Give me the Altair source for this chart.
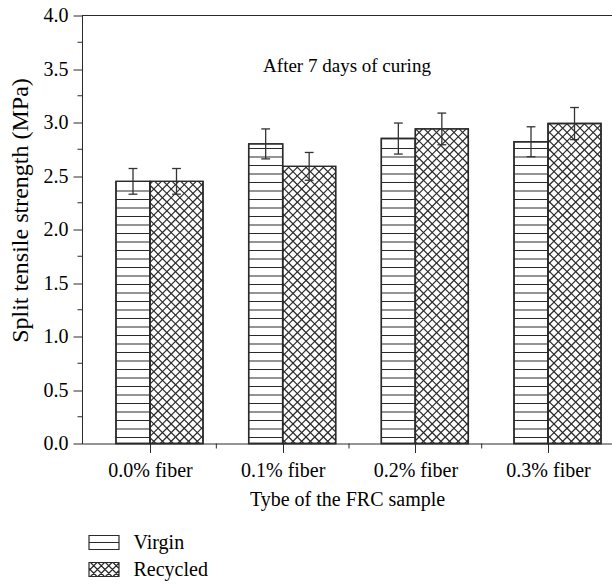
import json
import altair as alt
import numpy as np
import pandas as pd

# ---------------- data ----------------
categories = ["0.0% fiber", "0.1% fiber", "0.2% fiber", "0.3% fiber"]
series = ["Virgin", "Recycled"]
virgin = [2.45, 2.80, 2.85, 2.82]
recycled = [2.45, 2.59, 2.94, 2.99]
virgin_err = [0.12, 0.14, 0.145, 0.14]
recycled_err = [0.12, 0.13, 0.148, 0.15]
y_ticks = [0.0, 0.5, 1.0, 1.5, 2.0, 2.5, 3.0, 3.5, 4.0]
y_minor_ticks = [0.25, 0.75, 1.25, 1.75, 2.25, 2.75, 3.25, 3.75]
x_minor_ticks = [1.5, 2.5, 3.5]
note = "After 7 days of curing"
x_title = "Tybe of the FRC sample"
y_title = "Split tensile strength (MPa)"

# ---------------- layout / style ----------------
FONT = "Liberation Serif"
INK = "#2a2a2a"
PAD_L, PAD_T = 82, 15.5
W, H = 530, 428
TOTAL_H = 586
SX = 132.67                      # px per category unit
X0 = 1 - (150 - PAD_L) / SX      # x domain start
X1 = X0 + W / SX
Y_MAX = 4.0
SY = H / Y_MAX
V_W, R_W = 34 / SX, 53 / SX      # bar widths (data units)
CAP = 4.4 / SX
NOTE_Y = 3.47
STRIPE_OFF, STRIPE_STEP = 6.0, 8.5   # px
DIAG_P = 8.7                          # px

xscale = alt.Scale(domain=[X0, X1], nice=False, zero=False)
yscale = alt.Scale(domain=[0, Y_MAX], nice=False, zero=True)

label_expr = json.dumps(categories) + "[datum.value - 1]"
xaxis = alt.Axis(values=[1, 2, 3, 4], labelExpr=label_expr, tickSize=9,
                 labelPadding=24, labelBaseline="alphabetic", labelFontSize=20,
                 labelFlush=False, labelOverlap=False, grid=False,
                 title=x_title, titleFontSize=20, titleFontWeight="normal",
                 titleY=61.5, titleBaseline="alphabetic")
yaxis = alt.Axis(values=y_ticks, format=".1f", tickSize=9, labelPadding=5,
                 labelFontSize=20, labelFlush=False, grid=False,
                 title=y_title, titleFontSize=24, titleFontWeight="normal",
                 titleX=-62, titleY=194.5, titleAlign="center",
                 titleBaseline="middle", titleAngle=270)


def X(f):
    return alt.X(f, type="quantitative", scale=xscale, axis=xaxis)


def Y(f):
    return alt.Y(f, type="quantitative", scale=yscale, axis=yaxis)


# bars table
rows = []
for i, cat in enumerate(categories):
    c = i + 1
    rows.append(dict(cat=cat, series="Virgin", x=c - V_W, x2=c, xc=c - V_W / 2,
                     value=virgin[i], err=virgin_err[i], base=0.0))
    rows.append(dict(cat=cat, series="Recycled", x=c, x2=c + R_W, xc=c + R_W / 2,
                     value=recycled[i], err=recycled_err[i], base=0.0))
bars = pd.DataFrame(rows)
bars["lo"] = bars["value"] - bars["err"]
bars["hi"] = bars["value"] + bars["err"]
bars["cl"] = bars["xc"] - CAP
bars["cr"] = bars["xc"] + CAP

# hatch segments derived from bars
segs = []
for _, b in bars.iterrows():
    x0p = (b["x"] - X0) * SX
    x1p = (b["x2"] - X0) * SX
    hp = b["value"] * SY
    if b["series"] == "Virgin":
        yy = STRIPE_OFF
        while yy < hp - 2.5:
            segs.append(dict(x=b["x"], x2=b["x2"], y=yy / SY, y2=yy / SY))
            yy += STRIPE_STEP
    else:
        k0 = int(np.floor((x0p - hp) / DIAG_P)) - 1
        k1 = int(np.ceil(x1p / DIAG_P)) + 1
        for k in range(k0, k1 + 1):
            c = k * DIAG_P
            ya, yb = max(0.0, x0p - c), min(hp, x1p - c)
            if yb - ya > 0.3:
                segs.append(dict(x=X0 + (c + ya) / SX, x2=X0 + (c + yb) / SX,
                                 y=ya / SY, y2=yb / SY))
        k0 = int(np.floor(x0p / DIAG_P)) - 1
        k1 = int(np.ceil((x1p + hp) / DIAG_P)) + 1
        for k in range(k0, k1 + 1):
            c = k * DIAG_P + DIAG_P / 2
            ya, yb = max(0.0, c - x1p), min(hp, c - x0p)
            if yb - ya > 0.3:
                segs.append(dict(x=X0 + (c - ya) / SX, x2=X0 + (c - yb) / SX,
                                 y=ya / SY, y2=yb / SY))
hatch = pd.DataFrame(segs)

# legend symbol paths (unit square [-1,1] = sqrt(size) px)
SYM = 841
u = np.sqrt(SYM) / 2
hw, hh = 15 / u, 7 / u
rect = f"M{-hw:.3f},{-hh:.3f}H{hw:.3f}V{hh:.3f}H{-hw:.3f}Z"
path_v = rect + f" M{-hw:.3f},0H{hw:.3f}"
p = 7.5 / u
parts = [rect]
for sgn in (1, -1):
    c = -hw - 2 * hh
    while c < hw + 2 * hh:
        t0, t1 = -hh, hh
        if sgn == 1:
            t0 = max(t0, -hw - c)
            t1 = min(t1, hw - c)
        else:
            t0 = max(t0, c - hw)
            t1 = min(t1, c + hw)
        if t1 - t0 > 0.02:
            parts.append(f"M{c + sgn * t0:.3f},{t0:.3f}L{c + sgn * t1:.3f},{t1:.3f}")
        c += p
path_r = " ".join(parts)
legend_df = pd.DataFrame({"series": series})

# ---------------- layers ----------------
base_fill = alt.Chart(bars).mark_rect(fill="white", stroke=INK, strokeWidth=1.4).encode(
    x=X("x"), x2="x2", y=Y("value"), y2="base")

hatch_layer = alt.Chart(hatch).mark_rule(stroke=INK, strokeWidth=1.2).encode(
    x=X("x"), x2="x2", y=Y("y"), y2="y2")

outline = alt.Chart(bars).mark_rect(fillOpacity=0, stroke=INK, strokeWidth=1.4).encode(
    x=X("x"), x2="x2", y=Y("value"), y2="base")

err_v = alt.Chart(bars).mark_rule(stroke="#333333", strokeWidth=1.3).encode(
    x=X("xc"), y=Y("lo"), y2="hi")
cap_lo = alt.Chart(bars).mark_rule(stroke="#333333", strokeWidth=1.3).encode(
    x=X("cl"), x2="cr", y=Y("lo"))
cap_hi = alt.Chart(bars).mark_rule(stroke="#333333", strokeWidth=1.3).encode(
    x=X("cl"), x2="cr", y=Y("hi"))

top_border = alt.Chart(pd.DataFrame({"v": [Y_MAX]})).mark_rule(stroke=INK, strokeWidth=1).encode(
    y=Y("v"))

ymin = alt.Chart(pd.DataFrame({"v": y_minor_ticks})).mark_rule(stroke=INK, strokeWidth=1).encode(
    y=Y("v"), x=alt.value(-4.5), x2=alt.value(0))
xmin = alt.Chart(pd.DataFrame({"v": x_minor_ticks})).mark_rule(stroke=INK, strokeWidth=1).encode(
    x=X("v"), y=alt.value(H), y2=alt.value(H + 5))

note_layer = alt.Chart(pd.DataFrame({"t": [note], "x": [(X0 + X1) / 2], "y": [NOTE_Y]})).mark_text(
    font=FONT, fontSize=19, baseline="alphabetic", align="center", color="black").encode(
    x=X("x"), y=Y("y"), text="t:N")

legend_layer = alt.Chart(legend_df).mark_point(
    size=SYM, filled=False, color=INK, strokeWidth=1.2, clip=True, opacity=1).encode(
    x=alt.datum(1.0), y=alt.datum(-1.0),
    shape=alt.Shape("series:N", scale=alt.Scale(domain=series, range=[path_v, path_r]),
                    legend=alt.Legend(title=None, orient="none", legendX=6.5, legendY=511.5,
                                      symbolSize=SYM, labelFont=FONT, labelFontSize=20,
                                      labelColor="black", labelOffset=14, rowPadding=1,
                                      padding=0, symbolStrokeWidth=1.2,
                                      symbolStrokeColor=INK, symbolOpacity=1)))

chart = alt.layer(base_fill, hatch_layer, outline, err_v, cap_lo, cap_hi, top_border,
                  ymin, xmin, note_layer, legend_layer).properties(
    width=W, height=H,
    padding={"left": PAD_L, "top": PAD_T, "right": 0, "bottom": TOTAL_H - PAD_T - H},
    autosize=alt.AutoSizeParams(type="none"),
    background="white",
).configure_view(stroke=None).configure_axis(
    labelFont=FONT, titleFont=FONT, labelColor="black", titleColor="black",
    domainColor=INK, tickColor=INK, domainWidth=1, tickWidth=1)

chart.save("out.html", embed_options={"renderer": "svg", "actions": False})
